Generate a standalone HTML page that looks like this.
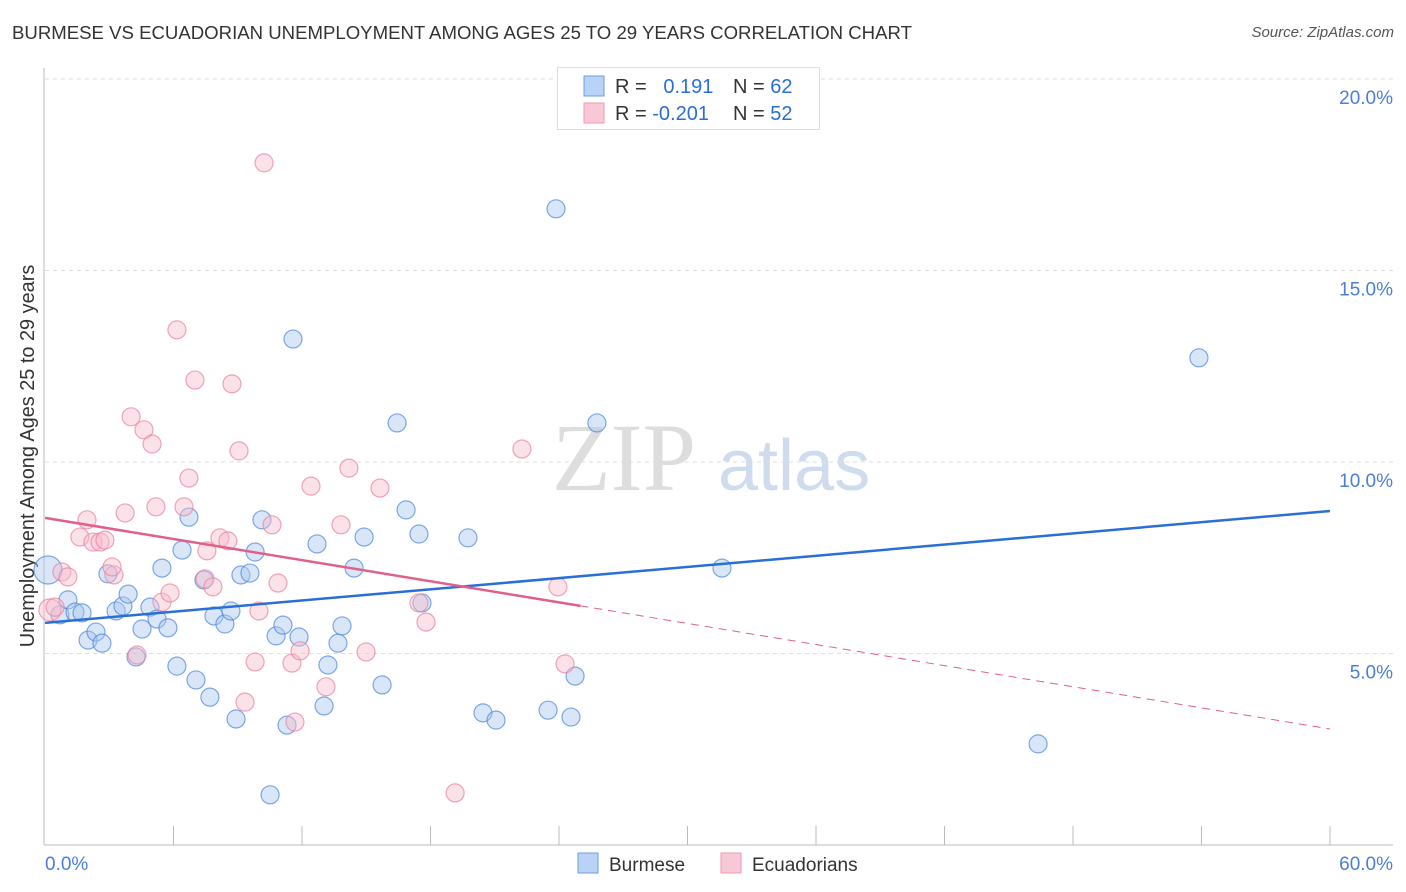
<!DOCTYPE html>
<html><head><meta charset="utf-8"><style>
body{margin:0;background:#fff;font-family:"Liberation Sans",sans-serif;}
#wrap{position:relative;width:1406px;height:892px;overflow:hidden;}
.t{position:absolute;white-space:nowrap;}
</style></head><body><div id="wrap">
<div class="t" style="left:12px;top:22px;font-size:18.6px;color:#333;">BURMESE VS ECUADORIAN UNEMPLOYMENT AMONG AGES 25 TO 29 YEARS CORRELATION CHART</div>
<div class="t" style="right:12px;top:24px;font-size:15px;color:#555;font-style:italic;">Source: ZipAtlas.com</div>
<svg id="svg" width="1406" height="892" style="position:absolute;left:0;top:0;"></svg>
</div>
<script>
const blueX=[0.14,0.70,1.07,1.40,1.73,2.01,2.38,2.66,2.94,3.32,3.64,3.88,4.25,4.53,4.90,5.23,5.46,5.74,6.16,6.40,6.72,7.05,7.42,7.70,7.89,8.40,8.68,8.92,9.15,9.57,9.81,10.13,10.51,10.79,11.11,11.30,11.58,11.86,12.70,13.03,13.21,13.68,13.87,14.43,14.90,15.74,16.44,16.86,17.46,17.60,19.75,20.45,21.06,23.49,23.86,24.56,24.75,25.77,31.61,46.37,53.88];
const blueY=[7.18,6.01,6.40,6.08,6.06,5.35,5.56,5.27,7.08,6.11,6.24,6.55,4.91,5.64,6.21,5.90,7.23,5.67,4.67,7.70,8.56,4.31,6.92,3.86,5.98,5.77,6.11,3.29,7.05,7.10,7.65,8.49,1.31,5.46,5.74,3.13,13.21,5.43,7.86,3.63,4.70,5.27,5.72,7.23,8.04,4.18,11.02,8.75,8.12,6.32,8.02,3.45,3.26,3.52,16.61,3.34,4.41,11.02,7.23,2.64,12.72];
const pinkX=[0.23,0.47,0.79,1.07,1.63,1.96,2.24,2.57,2.80,3.22,3.13,3.74,4.02,4.30,4.62,5.00,5.18,5.46,5.84,6.16,6.49,6.72,7.00,7.56,7.47,7.84,8.17,8.54,8.73,9.06,9.34,9.81,9.99,10.23,10.60,10.88,11.53,11.67,11.91,12.42,13.12,13.82,14.19,14.99,15.64,17.46,17.79,19.15,22.27,23.95,24.28];
const pinkY=[6.14,6.21,7.13,7.00,8.04,8.49,7.91,7.91,7.96,7.05,7.26,8.67,11.18,4.96,10.84,10.47,8.83,6.34,6.58,13.45,8.83,9.58,12.14,7.68,6.95,6.74,8.02,7.94,12.04,10.29,3.73,4.78,6.11,17.81,8.36,6.84,4.75,3.21,5.07,9.37,4.13,8.36,9.84,5.04,9.32,6.32,5.82,1.36,10.34,6.74,4.73];
const blueTrend=[5.80,8.72];
const pinkTrend=[8.54,3.03];
const pinkSolidEnd=25;
const yTicks=[5,10,15,20];
const yTickLabels=["5.0%","10.0%","15.0%","20.0%"];
const xMin=0,xMax=60;
const xs=v=>45+(v-xMin)/(xMax-xMin)*1285;
const ys=v=>845-v*38.3;
const svg=document.getElementById('svg');
const NS='http://www.w3.org/2000/svg';
function mk(tag,attrs){const e=document.createElementNS(NS,tag);for(const k in attrs)e.setAttribute(k,attrs[k]);svg.appendChild(e);return e;}
let w=mk('text',{x:552,y:490,'font-size':96,fill:'#ddd','font-family':'Liberation Serif,serif'});w.textContent='ZIP';


w=mk('text',{x:718,y:490,'font-size':72,fill:'#cfdcee','font-family':'Liberation Sans,sans-serif'});w.textContent='atlas';


yTicks.forEach((t,i)=>{
 let g=mk('line',{x1:45,x2:1393,y1:ys(t),y2:ys(t),stroke:'#ddd','stroke-dasharray':'4,4'});
 
 
 let l=mk('text',{x:1393,y:ys(t)+25,'text-anchor':'end','font-size':19,fill:'#4a7fd4'});l.textContent=yTickLabels[i];
 
 
});
let a=mk('line',{x1:44,x2:44,y1:68,y2:845,stroke:'#bbb'});


a=mk('line',{x1:44,x2:1393,y1:845,y2:845,stroke:'#bbb'});


for(let i=1;i<=10;i++){let tk=mk('line',{x1:45+i*128.5,x2:45+i*128.5,y1:826,y2:845,stroke:'#bbb'});
 
 }
let xl=mk('text',{x:45,y:870,'font-size':19,fill:'#4a7fd4'});xl.textContent='0.0%';


xl=mk('text',{x:1393,y:870,'font-size':19,fill:'#4a7fd4','text-anchor':'end'});xl.textContent='60.0%';


let yt=mk('text',{transform:'translate(34,456) rotate(-90)','text-anchor':'middle','font-size':19.9,fill:'#333'});yt.textContent='Unemployment Among Ages 25 to 29 years';


function pts(X,Y,fill,stroke,name){X.forEach((x,i)=>{
 const r=(i===0)?(name==='burmese-point'?14:11):9;
 const c=mk('circle',{cx:xs(x),cy:ys(Y[i]),r:r,fill:fill,'fill-opacity':0.45,stroke:stroke,'stroke-opacity':0.7,'stroke-width':1.2});
 
 
});}
pts(blueX,blueY,'#a9c8f0','#4a86d8','burmese-point');
pts(pinkX,pinkY,'#f7bccd','#e8809f','ecuadorian-point');
let tl=mk('line',{x1:xs(0),y1:ys(blueTrend[0]),x2:xs(60),y2:ys(blueTrend[1]),stroke:'#2a6fd6','stroke-width':2.5});


const pAt=x=>pinkTrend[0]+(pinkTrend[1]-pinkTrend[0])*x/60;
tl=mk('line',{x1:xs(0),y1:ys(pAt(0)),x2:xs(pinkSolidEnd),y2:ys(pAt(pinkSolidEnd)),stroke:'#e0608a','stroke-width':2.5});


tl=mk('line',{x1:xs(pinkSolidEnd),y1:ys(pAt(pinkSolidEnd)),x2:xs(60),y2:ys(pAt(60)),stroke:'#e0608a','stroke-width':1,'stroke-dasharray':'8,6'});


let lb=mk('rect',{x:557.5,y:67.5,width:262,height:62,fill:'#fff',stroke:'#ddd'});


function row(y,fill,stroke,r,n,name){
 let s=mk('rect',{x:584,y:y-10,width:20,height:20,fill:fill,stroke:stroke});
 
 
 let t=mk('text',{x:615,y:y+7,'font-size':20,fill:'#333'});
 t.innerHTML='R = <tspan fill="#2a6fd6">'+r+'</tspan>';
 
 
 t=mk('text',{x:733,y:y+7,'font-size':20,fill:'#333'});
 t.innerHTML='N = <tspan fill="#2a6fd6">'+n+'</tspan>';
 
 
}
row(86,'#b8d3f5','#6d9ee0','&#160; 0.191','62','burmese');
row(113,'#f9c8d6','#ec9ab3','-0.201','52','ecuadorian');
function bl(x,fill,stroke,label,name){
 let s=mk('rect',{x:x,y:853,width:20,height:20,fill:fill,stroke:stroke});
 
 
 let t=mk('text',{x:x+31,y:871,'font-size':19,fill:'#333'});t.textContent=label;
 
 
}
bl(578,'#b8d3f5','#6d9ee0','Burmese','burmese');
bl(721,'#f9c8d6','#ec9ab3','Ecuadorians','ecuadorian');
</script></body></html>
